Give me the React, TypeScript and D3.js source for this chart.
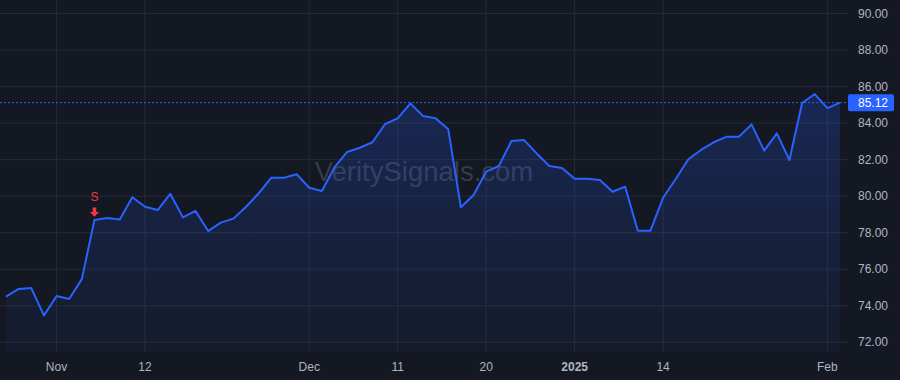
import React from "react";
import * as d3 from "d3";

const dates: string[] = [
  "2024-10-28","2024-10-29","2024-10-30","2024-10-31",
  "2024-11-01","2024-11-04","2024-11-05","2024-11-06","2024-11-07","2024-11-08",
  "2024-11-11","2024-11-12","2024-11-13","2024-11-14","2024-11-15","2024-11-18",
  "2024-11-19","2024-11-20","2024-11-21","2024-11-22","2024-11-25","2024-11-26",
  "2024-11-27","2024-11-29",
  "2024-12-02","2024-12-03","2024-12-04","2024-12-05","2024-12-06","2024-12-09",
  "2024-12-10","2024-12-11","2024-12-12","2024-12-13","2024-12-16","2024-12-17",
  "2024-12-18","2024-12-19","2024-12-20","2024-12-23","2024-12-24","2024-12-26",
  "2024-12-27","2024-12-30","2024-12-31",
  "2025-01-02","2025-01-03","2025-01-06","2025-01-07","2025-01-08","2025-01-10",
  "2025-01-13","2025-01-14","2025-01-15","2025-01-16","2025-01-17","2025-01-21",
  "2025-01-22","2025-01-23","2025-01-24","2025-01-27","2025-01-28","2025-01-29",
  "2025-01-30","2025-01-31",
  "2025-02-03","2025-02-04",
];

const prices: number[] = [
  74.5, 74.92, 74.97, 73.47,
  74.53, 74.37, 75.46, 78.69, 78.8, 78.72,
  79.94, 79.42, 79.24, 80.13, 78.84, 79.19,
  78.09, 78.55, 78.77, 79.42, 80.16, 81.01,
  81.01, 81.2,
  80.46, 80.28, 81.59, 82.42, 82.65, 82.95,
  83.95, 84.26, 85.08, 84.39, 84.26, 83.66,
  79.39, 80.06, 81.34, 81.65, 83.02, 83.07,
  82.34, 81.65, 81.54,
  80.95, 80.95, 80.88, 80.24, 80.52, 78.11,
  78.11, 79.91, 80.94, 82.02, 82.53, 82.95,
  83.25, 83.25, 83.93, 82.49, 83.44, 81.98,
  85.1, 85.59,
  84.82, 85.12,
];

const yTicks: number[] = [72, 74, 76, 78, 80, 82, 84, 86, 88, 90];

const xTickDates: string[] = [
  "2024-11-01", "2024-11-12", "2024-12-02", "2024-12-11",
  "2024-12-20", "2025-01-02", "2025-01-14", "2025-02-03",
];
const xTickLabels: string[] = ["Nov", "12", "Dec", "11", "20", "2025", "14", "Feb"];
const xTickBold: boolean[] = [false, false, false, false, false, true, false, false];

const lastPrice = 85.12;
const signalDate = "2024-11-06";
const signalLabel = "S";
const watermark = "VeritySignals.com";

const W = 900;
const H = 380;
const plotRight = 848;
const plotBottom = 352;

export default function App() {
  const x = d3.scaleLinear().domain([0, dates.length - 1]).range([6, 840]);
  const y = d3.scaleLinear().domain([72, 90]).range([342.3, 13.5]);

  const pts = prices.map((p, i) => [x(i), y(p)] as [number, number]);
  const line = d3.line<[number, number]>().x((d) => d[0]).y((d) => d[1]);
  const area = d3
    .area<[number, number]>()
    .x((d) => d[0])
    .y0(plotBottom)
    .y1((d) => d[1]);

  const sigIdx = dates.indexOf(signalDate);
  const sx = x(sigIdx);
  const sy = y(prices[sigIdx]);
  const font = "'Liberation Sans', Arial, sans-serif";
  const ly = y(lastPrice);

  return (
    <svg
      width={W}
      height={H}
      style={{ position: "fixed", left: 0, top: 0, display: "block" }}
    >
      <defs>
        <linearGradient id="areaGrad" gradientUnits="userSpaceOnUse" x1="0" y1={y(d3.max(prices) as number)} x2="0" y2={plotBottom}>
          <stop offset="0" stopColor="#2962ff" stopOpacity={0.22} />
          <stop offset="1" stopColor="#2962ff" stopOpacity={0.04} />
        </linearGradient>
      </defs>
      <rect x={0} y={0} width={W} height={H} fill="#141823" />
      {yTicks.map((t) => (
        <line key={"gy" + t} x1={0} x2={plotRight} y1={y(t)} y2={y(t)} stroke="#252a36" strokeWidth={1} />
      ))}
      {xTickDates.map((d) => {
        const xi = x(dates.indexOf(d));
        return <line key={"gx" + d} x1={xi} x2={xi} y1={0} y2={plotBottom} stroke="#252a36" strokeWidth={1} />;
      })}
      <text
        x={424}
        y={181}
        textAnchor="middle"
        fontFamily={font}
        fontSize={27.5}
        fill="#3a3f4c"
        fillOpacity={0.9}
      >
        {watermark}
      </text>
      <path d={area(pts) || ""} fill="url(#areaGrad)" />
      <path d={line(pts) || ""} fill="none" stroke="#2962ff" strokeWidth={2} strokeLinejoin="round" />
      <line x1={0} x2={plotRight} y1={ly} y2={ly} stroke="#2962ff" strokeWidth={1} strokeDasharray="2 2" />
      <text x={sx} y={197} textAnchor="middle" dominantBaseline="central" fontFamily={font} fontSize={12} fill="#f23645">
        {signalLabel}
      </text>
      <path
        d={`M${sx - 1.8},${sy - 12.7} L${sx + 1.8},${sy - 12.7} L${sx + 1.8},${sy - 8} L${sx + 4.6},${sy - 8} L${sx},${sy - 3.3} L${sx - 4.6},${sy - 8} L${sx - 1.8},${sy - 8} Z`}
        fill="#f23645"
      />
      {yTicks.map((t) => (
        <text key={"ty" + t} x={858} y={y(t)} dominantBaseline="central" fontFamily={font} fontSize={12} fill="#b2b5be">
          {t.toFixed(2)}
        </text>
      ))}
      {xTickDates.map((d, i) => (
        <text
          key={"tx" + d}
          x={x(dates.indexOf(d))}
          y={367}
          textAnchor="middle"
          dominantBaseline="central"
          fontFamily={font}
          fontSize={12}
          fontWeight={xTickBold[i] ? "bold" : "normal"}
          fill="#b2b5be"
        >
          {xTickLabels[i]}
        </text>
      ))}
      <rect x={848} y={ly - 8.5} width={46} height={17} rx={2} fill="#2962ff" />
      <text x={858} y={ly} dominantBaseline="central" fontFamily={font} fontSize={12} fill="#ffffff">
        {lastPrice.toFixed(2)}
      </text>
    </svg>
  );
}
